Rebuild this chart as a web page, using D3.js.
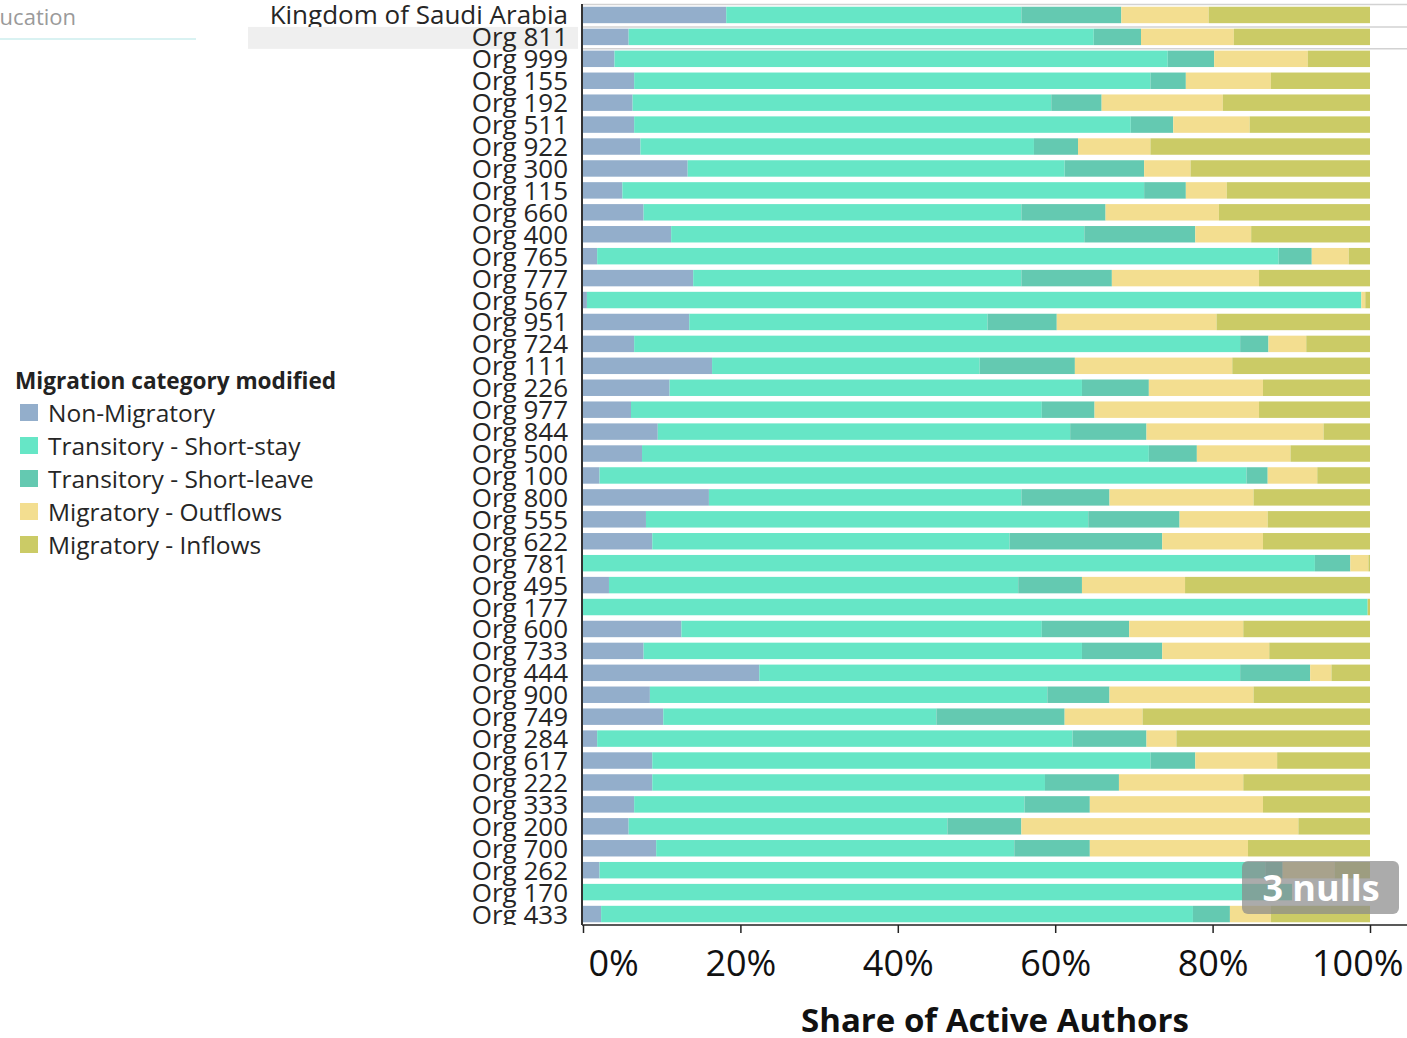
<!DOCTYPE html>
<html>
<head>
<meta charset="utf-8">
<script src="https://cdn.jsdelivr.net/npm/d3@7"></script>
<style>
  html, body { margin: 0; padding: 0; background: #fff; overflow: hidden; }
  svg { display: block; font-family: "Open Sans", "Noto Sans", sans-serif; }
</style>
</head>
<body>
<svg id="chart" width="1407" height="1038"></svg>
<script>
// Rows of the stacked bar chart, top to bottom
const rowLabels = [
  "Kingdom of Saudi Arabia", "Org 811", "Org 999", "Org 155", "Org 192", "Org 511",
  "Org 922", "Org 300", "Org 115", "Org 660", "Org 400", "Org 765", "Org 777",
  "Org 567", "Org 951", "Org 724", "Org 111", "Org 226", "Org 977", "Org 844",
  "Org 500", "Org 100", "Org 800", "Org 555", "Org 622", "Org 781", "Org 495",
  "Org 177", "Org 600", "Org 733", "Org 444", "Org 900", "Org 749", "Org 284",
  "Org 617", "Org 222", "Org 333", "Org 200", "Org 700", "Org 262", "Org 170",
  "Org 433"
];

// Share of active authors (%) per migration category, in row order
const nonMigratory = [18.2, 5.8, 4.0, 6.5, 6.3, 6.5, 7.3, 13.3, 5.0, 7.7, 11.2, 1.8, 14.0, 0.5, 13.5, 6.5, 16.4, 11.0, 6.1, 9.5, 7.5, 2.1, 16.0, 8.0, 8.8, 0.0, 3.3, 0.0, 12.5, 7.7, 22.4, 8.5, 10.2, 1.8, 8.8, 8.8, 6.5, 5.8, 9.3, 2.1, 0.0, 2.3];
const shortStay    = [37.5, 59.1, 70.3, 65.6, 53.2, 63.1, 50.0, 47.9, 66.3, 48.0, 52.5, 86.6, 41.7, 98.4, 37.9, 77.0, 34.0, 52.4, 52.2, 52.4, 64.4, 82.2, 39.7, 56.2, 45.4, 93.0, 52.0, 99.7, 45.8, 55.7, 61.1, 50.5, 34.7, 60.4, 63.3, 49.9, 49.6, 40.5, 45.5, 84.6, 90.1, 75.2];
const shortLeave   = [12.7, 6.0, 5.9, 4.5, 6.4, 5.4, 5.6, 10.1, 5.3, 10.7, 14.1, 4.2, 11.5, 0.0, 8.8, 3.6, 12.1, 8.5, 6.7, 9.7, 6.1, 2.7, 11.2, 11.6, 19.4, 4.5, 8.1, 0.0, 11.1, 10.2, 8.9, 7.9, 16.3, 9.4, 5.7, 9.4, 8.3, 9.4, 9.6, 2.2, 0.0, 4.7];
const outflows     = [11.1, 11.8, 11.9, 10.8, 15.4, 9.7, 9.2, 5.9, 5.2, 14.4, 7.1, 4.7, 18.7, 0.5, 20.3, 4.8, 20.0, 14.5, 20.9, 22.5, 11.9, 6.3, 18.3, 11.2, 12.8, 2.3, 13.1, 0.0, 14.5, 13.6, 2.7, 18.3, 9.9, 3.8, 10.4, 15.8, 22.0, 35.2, 20.1, 6.6, 0.0, 5.2];
const inflows      = [20.5, 17.3, 7.9, 12.6, 18.7, 15.3, 27.9, 22.8, 18.2, 19.2, 15.1, 2.7, 14.1, 0.6, 19.5, 8.1, 17.5, 13.6, 14.1, 5.9, 10.1, 6.7, 14.8, 13.0, 13.6, 0.2, 23.5, 0.3, 16.1, 12.8, 4.9, 14.8, 28.9, 24.6, 11.8, 16.1, 13.6, 9.1, 15.5, 4.5, 0.0, 12.6];

const categories = ["Non-Migratory", "Transitory - Short-stay", "Transitory - Short-leave", "Migratory - Outflows", "Migratory - Inflows"];
const categoryColors = ["#93aecb", "#66e6c6", "#64c9b1", "#f3de90", "#cbcb66"];
const xTickValues = [0, 20, 40, 60, 80, 100];
const legendTitle = "Migration category modified";
const axisTitle = "Share of Active Authors";
const filterLabel = "Education";
const highlightedRow = "Org 811";
const nullCount = 3;

const columns = [nonMigratory, shortStay, shortLeave, outflows, inflows];
const rows = rowLabels.map((label, i) => {
  const r = { label };
  categories.forEach((c, k) => { r[c] = columns[k][i]; });
  return r;
});

const svg = d3.select("#chart");
const W = 1407;
const plotLeft = 583, plotRight = 1370, plotTop = 4, plotBottom = 925;

const x = d3.scaleLinear().domain([0, 100]).range([plotLeft, plotRight]);
const y = d3.scaleBand().domain(rowLabels).range([plotTop, plotBottom])
  .paddingInner(0.25).paddingOuter(0.125);
const color = d3.scaleOrdinal().domain(categories).range(categoryColors);
const step = y.step();
const rowTop = d => y(d) - step * 0.125;

// Filter control remnant at top-left
svg.append("text")
  .attr("x", 76).attr("y", 25)
  .attr("text-anchor", "end")
  .attr("font-size", 22).attr("fill", "#9a9a9a")
  .text(filterLabel);
svg.append("line")
  .attr("x1", 0).attr("x2", 196).attr("y1", 39).attr("y2", 39)
  .attr("stroke", "#cdeeee").attr("stroke-width", 1.5);

// Row separators around the selected row
const sepYs = [plotTop + 0.5, rowTop(highlightedRow) + 1, rowTop(highlightedRow) + step + 1];
svg.append("g").selectAll("line").data(sepYs).join("line")
  .attr("x1", plotLeft).attr("x2", W)
  .attr("y1", d => d).attr("y2", d => d)
  .attr("stroke", "#d2d2d2").attr("stroke-width", 1.5);

// Row labels (each row drawn in order so the highlight band sits over the row above)
const labelClip = svg.append("defs").append("clipPath").attr("id", "labelClip");
labelClip.append("rect").attr("x", 0).attr("y", 0).attr("width", plotLeft).attr("height", plotBottom);

const labelRows = svg.append("g").attr("clip-path", "url(#labelClip)")
  .selectAll("g").data(rowLabels).join("g");
labelRows.filter(d => d === highlightedRow).append("rect")
  .attr("x", 248).attr("width", 330)
  .attr("y", d => rowTop(d) + 1).attr("height", step)
  .attr("fill", "#efefef");
labelRows.append("text")
  .attr("x", 568)
  .attr("y", d => y(d) + y.bandwidth() / 2 + 9.5)
  .attr("text-anchor", "end")
  .attr("font-size", 26).attr("fill", "#262626")
  .text(d => d);

// Stacked bars
const series = d3.stack().keys(categories)(rows);
svg.append("g").selectAll("g").data(series).join("g")
  .attr("fill", s => color(s.key))
  .selectAll("rect").data(s => s.filter(d => d[1] - d[0] > 0)).join("rect")
  .attr("x", d => x(d[0]))
  .attr("width", d => x(d[1]) - x(d[0]))
  .attr("y", d => y(d.data.label))
  .attr("height", y.bandwidth());

// X axis
const xAxis = svg.append("g")
  .attr("transform", `translate(0,${plotBottom})`)
  .call(d3.axisBottom(x).tickValues(xTickValues).tickFormat(d => d + "%").tickSize(8).tickPadding(17));
xAxis.select(".domain").remove();
xAxis.selectAll(".tick line").attr("stroke", "#222").attr("stroke-width", 1.5);
xAxis.selectAll(".tick text")
  .attr("font-size", 36).attr("fill", "#111").attr("font-family", "\"Open Sans\", sans-serif")
  .each(function (d) {
    // keep labels inside the plot's horizontal extent
    const w = this.getComputedTextLength();
    const cx = x(d);
    const lo = plotLeft + 5 + w / 2, hi = W - 4 - w / 2;
    const shifted = Math.max(lo, Math.min(hi, cx));
    d3.select(this).attr("x", shifted - cx);
  });
svg.append("line")
  .attr("x1", plotLeft - 1).attr("x2", W).attr("y1", plotBottom).attr("y2", plotBottom)
  .attr("stroke", "#222").attr("stroke-width", 1.5);
svg.append("line")
  .attr("x1", plotLeft - 1).attr("x2", plotLeft - 1).attr("y1", plotTop).attr("y2", plotBottom)
  .attr("stroke", "#333").attr("stroke-width", 2);

svg.append("text")
  .attr("x", 995).attr("y", 1032)
  .attr("text-anchor", "middle")
  .attr("font-size", 33).attr("font-weight", 700).attr("fill", "#111")
  .text(axisTitle);

// Legend
const legend = svg.append("g").attr("transform", "translate(15,0)");
legend.append("text")
  .attr("x", 0).attr("y", 389)
  .attr("font-size", 22.6).attr("font-weight", 700).attr("fill", "#222")
  .text(legendTitle);
const items = legend.selectAll("g.item").data(categories).join("g")
  .attr("class", "item")
  .attr("transform", (d, i) => `translate(0,${413 + i * 33})`);
items.append("rect")
  .attr("x", 5).attr("y", -9).attr("width", 18).attr("height", 17)
  .attr("fill", d => color(d));
items.append("text")
  .attr("x", 33).attr("y", 8.5)
  .attr("font-size", 24.5).attr("fill", "#262626")
  .text(d => d);

// Null-values indicator
const badge = svg.append("g").attr("transform", "translate(1242,861)");
badge.append("rect")
  .attr("width", 157).attr("height", 53).attr("rx", 6)
  .attr("fill", "#8a8a8a").attr("fill-opacity", 0.72);
badge.append("text")
  .attr("x", 79).attr("y", 40)
  .attr("text-anchor", "middle")
  .attr("font-size", 36).attr("font-weight", 700).attr("fill", "#fff")
  .text(`${nullCount} nulls`);
</script>
</body>
</html>
